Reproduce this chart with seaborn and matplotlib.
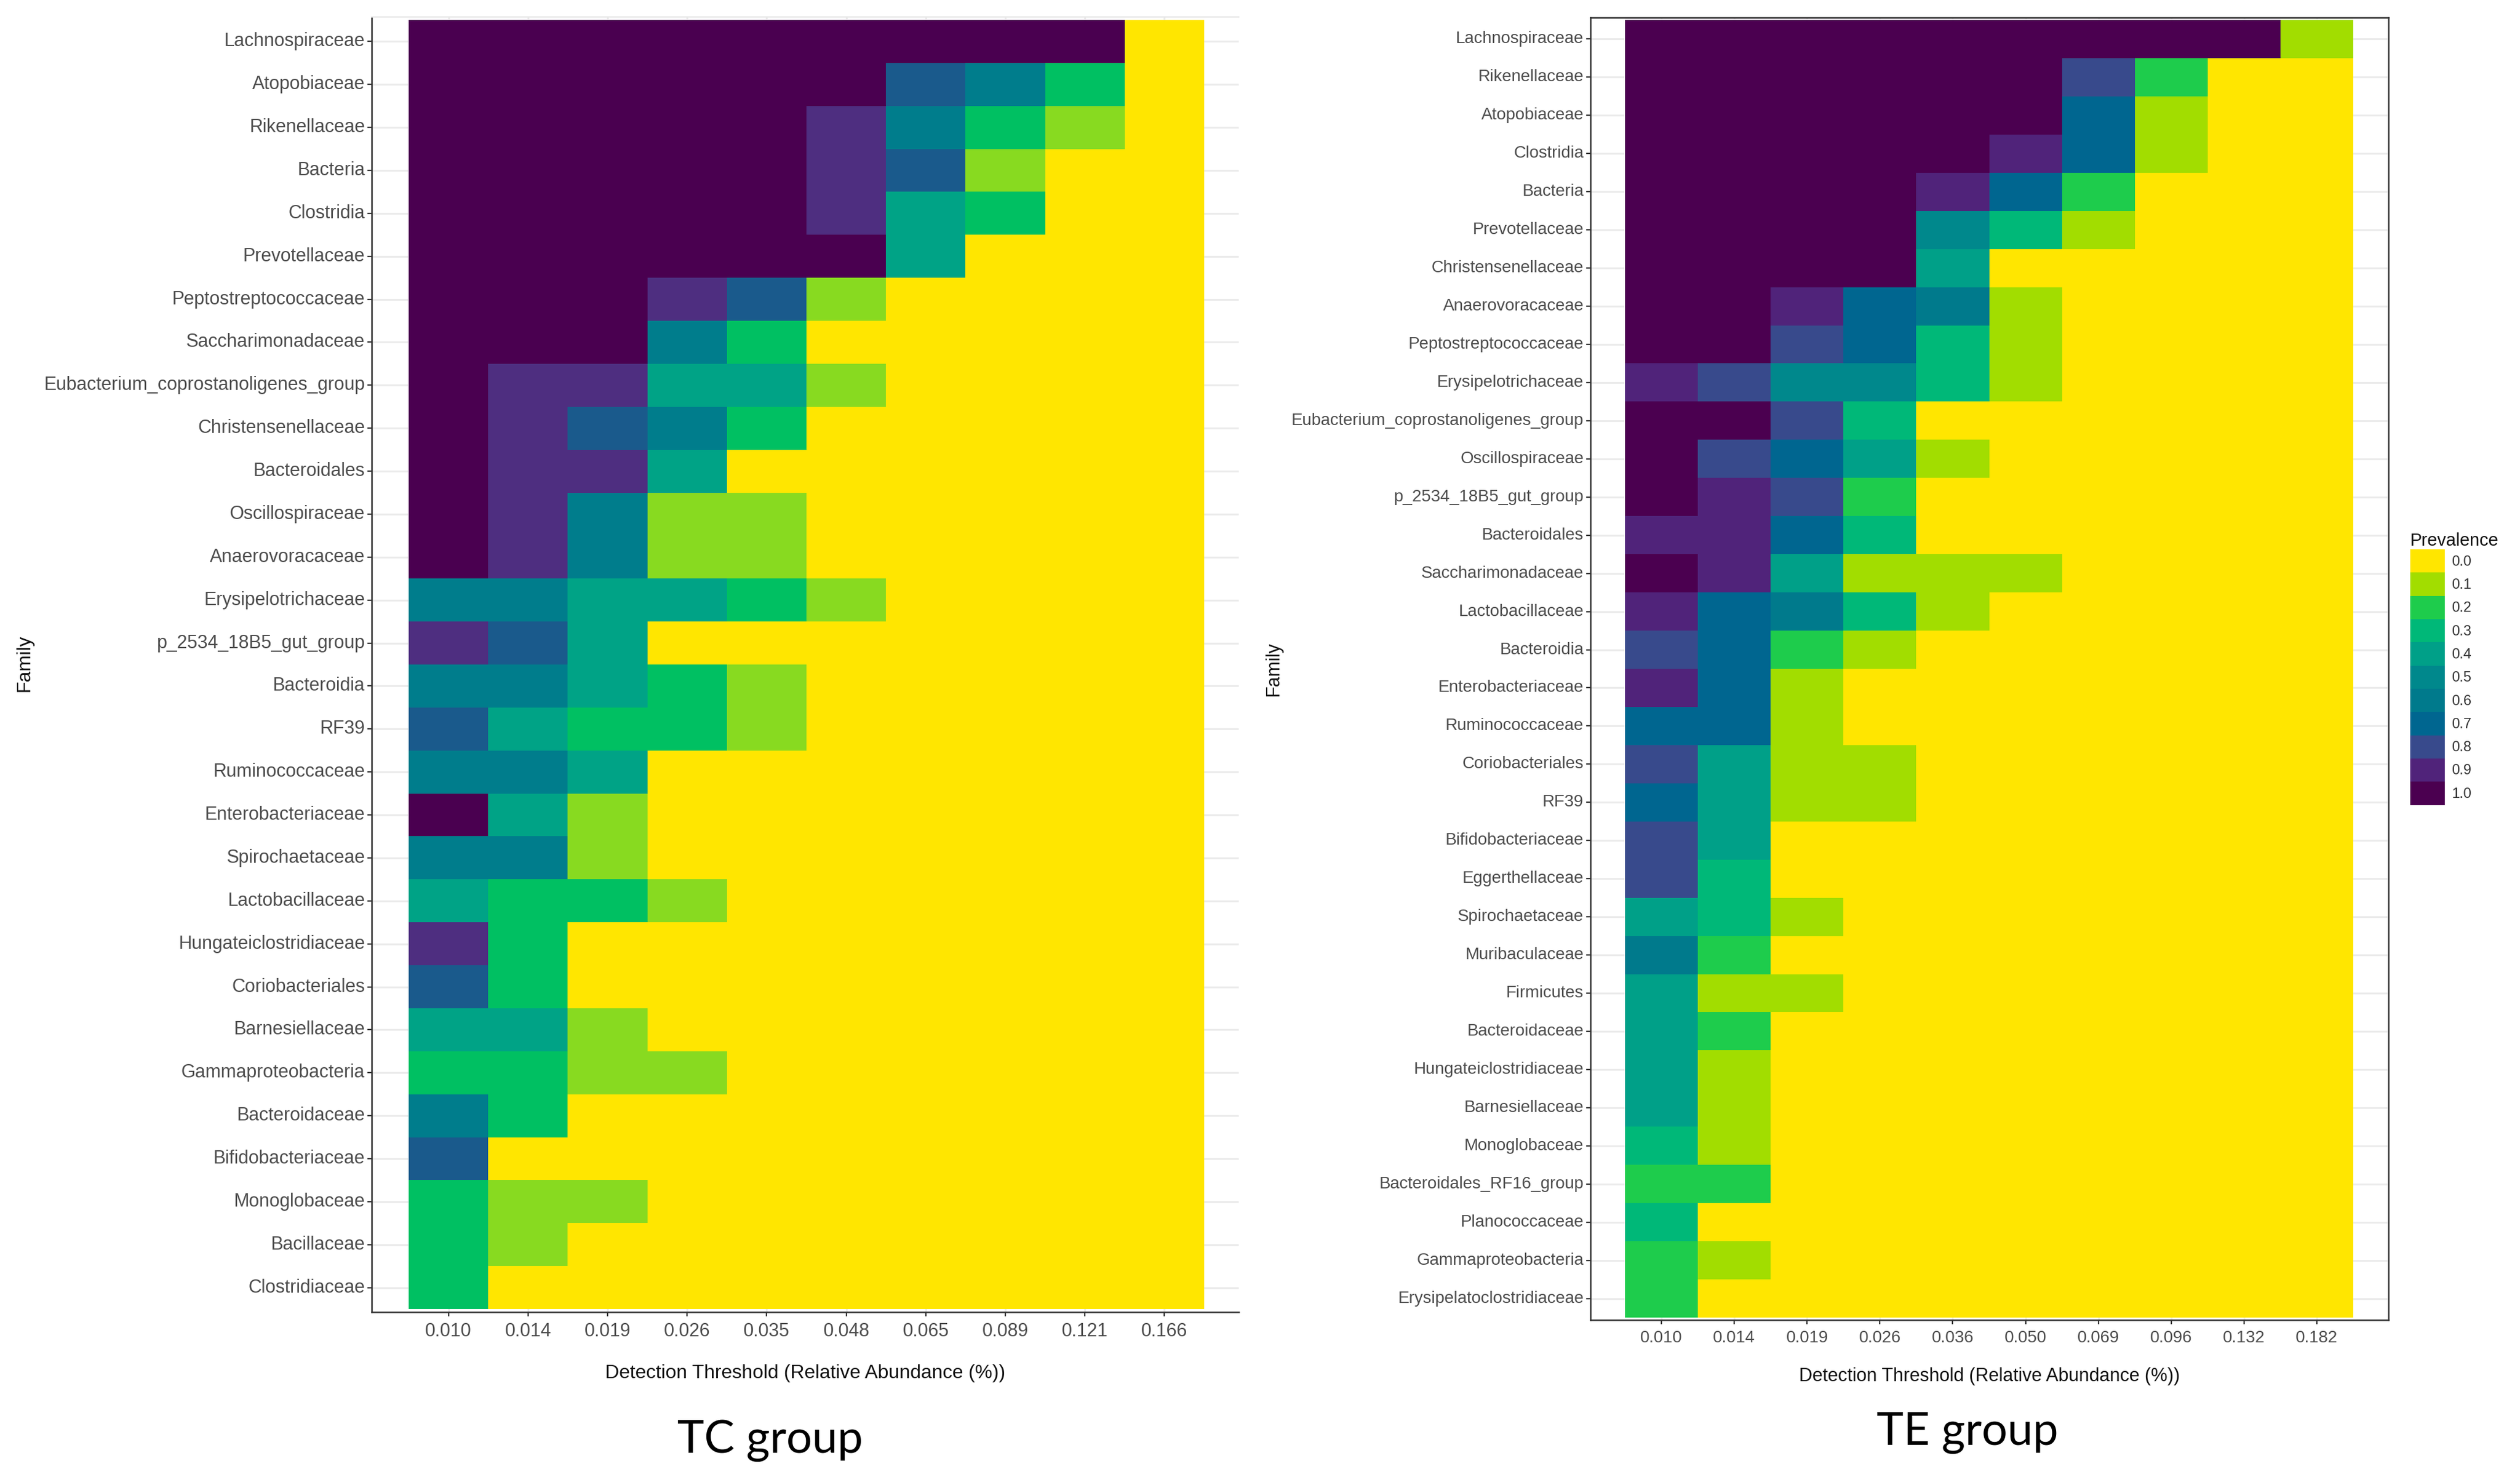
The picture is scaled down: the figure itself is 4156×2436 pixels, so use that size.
import pandas as pd
import matplotlib
matplotlib.use("Agg")
import matplotlib.pyplot as plt
from matplotlib.colors import ListedColormap, BoundaryNorm
from matplotlib.patches import Patch
import seaborn as sns

# ---------------- data ----------------
tc_thresholds = ["0.010", "0.014", "0.019", "0.026", "0.035",
                 "0.048", "0.065", "0.089", "0.121", "0.166"]
tc_families = [
    "Lachnospiraceae", "Atopobiaceae", "Rikenellaceae", "Bacteria", "Clostridia",
    "Prevotellaceae", "Peptostreptococcaceae", "Saccharimonadaceae",
    "Eubacterium_coprostanoligenes_group", "Christensenellaceae", "Bacteroidales",
    "Oscillospiraceae", "Anaerovoracaceae", "Erysipelotrichaceae",
    "p_2534_18B5_gut_group", "Bacteroidia", "RF39", "Ruminococcaceae",
    "Enterobacteriaceae", "Spirochaetaceae", "Lactobacillaceae",
    "Hungateiclostridiaceae", "Coriobacteriales", "Barnesiellaceae",
    "Gammaproteobacteria", "Bacteroidaceae", "Bifidobacteriaceae",
    "Monoglobaceae", "Bacillaceae", "Clostridiaceae",
]
tc_prevalence = [
    [1.0, 1.0, 1.0, 1.0, 1.0, 1.0, 1.0, 1.0, 1.0, 0.0],
    [1.0, 1.0, 1.0, 1.0, 1.0, 1.0, 0.7, 0.6, 0.3, 0.0],
    [1.0, 1.0, 1.0, 1.0, 1.0, 0.9, 0.6, 0.3, 0.1, 0.0],
    [1.0, 1.0, 1.0, 1.0, 1.0, 0.9, 0.7, 0.1, 0.0, 0.0],
    [1.0, 1.0, 1.0, 1.0, 1.0, 0.9, 0.4, 0.3, 0.0, 0.0],
    [1.0, 1.0, 1.0, 1.0, 1.0, 1.0, 0.4, 0.0, 0.0, 0.0],
    [1.0, 1.0, 1.0, 0.9, 0.7, 0.1, 0.0, 0.0, 0.0, 0.0],
    [1.0, 1.0, 1.0, 0.6, 0.3, 0.0, 0.0, 0.0, 0.0, 0.0],
    [1.0, 0.9, 0.9, 0.4, 0.4, 0.1, 0.0, 0.0, 0.0, 0.0],
    [1.0, 0.9, 0.7, 0.6, 0.3, 0.0, 0.0, 0.0, 0.0, 0.0],
    [1.0, 0.9, 0.9, 0.4, 0.0, 0.0, 0.0, 0.0, 0.0, 0.0],
    [1.0, 0.9, 0.6, 0.1, 0.1, 0.0, 0.0, 0.0, 0.0, 0.0],
    [1.0, 0.9, 0.6, 0.1, 0.1, 0.0, 0.0, 0.0, 0.0, 0.0],
    [0.6, 0.6, 0.4, 0.4, 0.3, 0.1, 0.0, 0.0, 0.0, 0.0],
    [0.9, 0.7, 0.4, 0.0, 0.0, 0.0, 0.0, 0.0, 0.0, 0.0],
    [0.6, 0.6, 0.4, 0.3, 0.1, 0.0, 0.0, 0.0, 0.0, 0.0],
    [0.7, 0.4, 0.3, 0.3, 0.1, 0.0, 0.0, 0.0, 0.0, 0.0],
    [0.6, 0.6, 0.4, 0.0, 0.0, 0.0, 0.0, 0.0, 0.0, 0.0],
    [1.0, 0.4, 0.1, 0.0, 0.0, 0.0, 0.0, 0.0, 0.0, 0.0],
    [0.6, 0.6, 0.1, 0.0, 0.0, 0.0, 0.0, 0.0, 0.0, 0.0],
    [0.4, 0.3, 0.3, 0.1, 0.0, 0.0, 0.0, 0.0, 0.0, 0.0],
    [0.9, 0.3, 0.0, 0.0, 0.0, 0.0, 0.0, 0.0, 0.0, 0.0],
    [0.7, 0.3, 0.0, 0.0, 0.0, 0.0, 0.0, 0.0, 0.0, 0.0],
    [0.4, 0.4, 0.1, 0.0, 0.0, 0.0, 0.0, 0.0, 0.0, 0.0],
    [0.3, 0.3, 0.1, 0.1, 0.0, 0.0, 0.0, 0.0, 0.0, 0.0],
    [0.6, 0.3, 0.0, 0.0, 0.0, 0.0, 0.0, 0.0, 0.0, 0.0],
    [0.7, 0.0, 0.0, 0.0, 0.0, 0.0, 0.0, 0.0, 0.0, 0.0],
    [0.3, 0.1, 0.1, 0.0, 0.0, 0.0, 0.0, 0.0, 0.0, 0.0],
    [0.3, 0.1, 0.0, 0.0, 0.0, 0.0, 0.0, 0.0, 0.0, 0.0],
    [0.3, 0.0, 0.0, 0.0, 0.0, 0.0, 0.0, 0.0, 0.0, 0.0],
]

te_thresholds = ["0.010", "0.014", "0.019", "0.026", "0.036",
                 "0.050", "0.069", "0.096", "0.132", "0.182"]
te_families = [
    "Lachnospiraceae", "Rikenellaceae", "Atopobiaceae", "Clostridia", "Bacteria",
    "Prevotellaceae", "Christensenellaceae", "Anaerovoracaceae",
    "Peptostreptococcaceae", "Erysipelotrichaceae",
    "Eubacterium_coprostanoligenes_group", "Oscillospiraceae",
    "p_2534_18B5_gut_group", "Bacteroidales", "Saccharimonadaceae",
    "Lactobacillaceae", "Bacteroidia", "Enterobacteriaceae", "Ruminococcaceae",
    "Coriobacteriales", "RF39", "Bifidobacteriaceae", "Eggerthellaceae",
    "Spirochaetaceae", "Muribaculaceae", "Firmicutes", "Bacteroidaceae",
    "Hungateiclostridiaceae", "Barnesiellaceae", "Monoglobaceae",
    "Bacteroidales_RF16_group", "Planococcaceae", "Gammaproteobacteria",
    "Erysipelatoclostridiaceae",
]
te_prevalence = [
    [1.0, 1.0, 1.0, 1.0, 1.0, 1.0, 1.0, 1.0, 1.0, 0.1],
    [1.0, 1.0, 1.0, 1.0, 1.0, 1.0, 0.8, 0.2, 0.0, 0.0],
    [1.0, 1.0, 1.0, 1.0, 1.0, 1.0, 0.7, 0.1, 0.0, 0.0],
    [1.0, 1.0, 1.0, 1.0, 1.0, 0.9, 0.7, 0.1, 0.0, 0.0],
    [1.0, 1.0, 1.0, 1.0, 0.9, 0.7, 0.2, 0.0, 0.0, 0.0],
    [1.0, 1.0, 1.0, 1.0, 0.5, 0.3, 0.1, 0.0, 0.0, 0.0],
    [1.0, 1.0, 1.0, 1.0, 0.4, 0.0, 0.0, 0.0, 0.0, 0.0],
    [1.0, 1.0, 0.9, 0.7, 0.6, 0.1, 0.0, 0.0, 0.0, 0.0],
    [1.0, 1.0, 0.8, 0.7, 0.3, 0.1, 0.0, 0.0, 0.0, 0.0],
    [0.9, 0.8, 0.5, 0.5, 0.3, 0.1, 0.0, 0.0, 0.0, 0.0],
    [1.0, 1.0, 0.8, 0.3, 0.0, 0.0, 0.0, 0.0, 0.0, 0.0],
    [1.0, 0.8, 0.7, 0.4, 0.1, 0.0, 0.0, 0.0, 0.0, 0.0],
    [1.0, 0.9, 0.8, 0.2, 0.0, 0.0, 0.0, 0.0, 0.0, 0.0],
    [0.9, 0.9, 0.7, 0.3, 0.0, 0.0, 0.0, 0.0, 0.0, 0.0],
    [1.0, 0.9, 0.4, 0.1, 0.1, 0.1, 0.0, 0.0, 0.0, 0.0],
    [0.9, 0.7, 0.6, 0.3, 0.1, 0.0, 0.0, 0.0, 0.0, 0.0],
    [0.8, 0.7, 0.2, 0.1, 0.0, 0.0, 0.0, 0.0, 0.0, 0.0],
    [0.9, 0.7, 0.1, 0.0, 0.0, 0.0, 0.0, 0.0, 0.0, 0.0],
    [0.7, 0.7, 0.1, 0.0, 0.0, 0.0, 0.0, 0.0, 0.0, 0.0],
    [0.8, 0.4, 0.1, 0.1, 0.0, 0.0, 0.0, 0.0, 0.0, 0.0],
    [0.7, 0.4, 0.1, 0.1, 0.0, 0.0, 0.0, 0.0, 0.0, 0.0],
    [0.8, 0.4, 0.0, 0.0, 0.0, 0.0, 0.0, 0.0, 0.0, 0.0],
    [0.8, 0.3, 0.0, 0.0, 0.0, 0.0, 0.0, 0.0, 0.0, 0.0],
    [0.4, 0.3, 0.1, 0.0, 0.0, 0.0, 0.0, 0.0, 0.0, 0.0],
    [0.6, 0.2, 0.0, 0.0, 0.0, 0.0, 0.0, 0.0, 0.0, 0.0],
    [0.4, 0.1, 0.1, 0.0, 0.0, 0.0, 0.0, 0.0, 0.0, 0.0],
    [0.4, 0.2, 0.0, 0.0, 0.0, 0.0, 0.0, 0.0, 0.0, 0.0],
    [0.4, 0.1, 0.0, 0.0, 0.0, 0.0, 0.0, 0.0, 0.0, 0.0],
    [0.4, 0.1, 0.0, 0.0, 0.0, 0.0, 0.0, 0.0, 0.0, 0.0],
    [0.3, 0.1, 0.0, 0.0, 0.0, 0.0, 0.0, 0.0, 0.0, 0.0],
    [0.2, 0.2, 0.0, 0.0, 0.0, 0.0, 0.0, 0.0, 0.0, 0.0],
    [0.3, 0.0, 0.0, 0.0, 0.0, 0.0, 0.0, 0.0, 0.0, 0.0],
    [0.2, 0.1, 0.0, 0.0, 0.0, 0.0, 0.0, 0.0, 0.0, 0.0],
    [0.2, 0.0, 0.0, 0.0, 0.0, 0.0, 0.0, 0.0, 0.0, 0.0],
]

levels = ["0.0", "0.1", "0.2", "0.3", "0.4", "0.5", "0.6", "0.7", "0.8", "0.9", "1.0"]

# colour steps (prevalence 0.0 -> 1.0)
te_colors = ["#FFE600", "#A2DD00", "#1ECC4C", "#00B878", "#00A088", "#00888C",
             "#007A8C", "#006690", "#384A8C", "#50237A", "#4B0050"]
tc_colors = ["#FFE600", "#88DA20", "#1ECC4C", "#00C062", "#00A386", "#00888C",
             "#007D8C", "#1A5A8C", "#384A8C", "#4E2E80", "#4A0050"]
bounds = [-0.05 + 0.1 * i for i in range(12)]

sns.set_style("white")
plt.rcParams["font.family"] = ["Liberation Sans", "DejaVu Sans"]

fig = plt.figure(figsize=(41.56, 24.36), dpi=100)


def draw_panel(ax, families, thresholds, values, colors, xlim, ylim,
               ysize, xsize, full_frame):
    df = pd.DataFrame(values, index=families, columns=thresholds)
    cmap = ListedColormap(colors)
    norm = BoundaryNorm(bounds, cmap.N)
    sns.heatmap(df, cmap=cmap, norm=norm, cbar=False, ax=ax, linewidths=0)
    ax.set_xlim(*xlim)
    ax.set_ylim(*ylim)
    ax.set_axisbelow(True)
    ax.grid(True, color="#EBEBEB", linewidth=2.2)
    ax.set_xlabel("")
    ax.set_ylabel("")
    ax.set_yticklabels(families, rotation=0, fontsize=ysize, color="#4D4D4D")
    ax.set_xticklabels(thresholds, rotation=0, fontsize=xsize, color="#4D4D4D")
    ax.tick_params(axis="both", length=5, width=1.6, color="#333333",
                   left=True, bottom=True)
    ax.tick_params(axis="y", pad=3)
    ax.tick_params(axis="x", pad=7)
    for side in ["left", "bottom"]:
        ax.spines[side].set_visible(True)
        ax.spines[side].set_color("#333333")
        ax.spines[side].set_linewidth(1.8)
    if full_frame:
        for side in ["top", "right"]:
            ax.spines[side].set_visible(True)
            ax.spines[side].set_color("#333333")
            ax.spines[side].set_linewidth(1.8)
    else:
        ax.spines["top"].set_visible(True)
        ax.spines["top"].set_color("#E5E5E5")
        ax.spines["top"].set_linewidth(1.5)
        ax.spines["right"].set_visible(False)


W, H = 4156, 2436

# -------- TC group (left) --------
ax1 = fig.add_axes([613 / W, 1 - 2164 / H, (2043 - 613) / W, (2164 - 28) / H])
draw_panel(ax1, tc_families, tc_thresholds, tc_prevalence, tc_colors,
           (-0.465, 10.434), (30.07, -0.07), 22, 22, False)

# -------- TE group (right) --------
ax2 = fig.add_axes([2623 / W, 1 - 2177 / H, (3939 - 2623) / W, (2177 - 29) / H])
draw_panel(ax2, te_families, te_thresholds, te_prevalence, te_colors,
           (-0.475, 10.483), (34.064, -0.064), 20, 20, True)

# axis titles
xt = "Detection Threshold (Relative Abundance (%))"
fig.text(1328 / W, 1 - 2265 / H, xt, ha="center", va="center", fontsize=23, color="#111111")
fig.text(3281 / W, 1 - 2270 / H, xt, ha="center", va="center", fontsize=22, color="#111111")
fig.text(40 / W, 1 - 1094 / H, "Family", rotation=90, ha="center", va="center",
         fontsize=23, color="#111111")
fig.text(2100 / W, 1 - 1103 / H, "Family", rotation=90, ha="center", va="center",
         fontsize=22, color="#111111")

# group captions
fig.text(1270 / W, 1 - 2376 / H, "TC group", ha="center", va="center",
         fontsize=54, family=["Lato", "DejaVu Sans"], color="black")
fig.text(3245 / W, 1 - 2363 / H, "TE group", ha="center", va="center",
         fontsize=54, family=["Lato", "DejaVu Sans"], color="black")

# legend
handles = [Patch(facecolor=c, edgecolor="none") for c in te_colors]
leg = fig.legend(handles, levels, title="Prevalence", loc="upper left",
                 bbox_to_anchor=(3975 / W, 1 - 878 / H), frameon=False,
                 fontsize=17, title_fontsize=21, labelspacing=0,
                 handlelength=2.42, handleheight=2.12, handletextpad=0.45,
                 borderpad=0, borderaxespad=0, alignment="left")
for t in leg.get_texts():
    t.set_color("#333333")
leg.get_title().set_color("#111111")

fig.savefig("out.png", dpi=100, facecolor="white")
